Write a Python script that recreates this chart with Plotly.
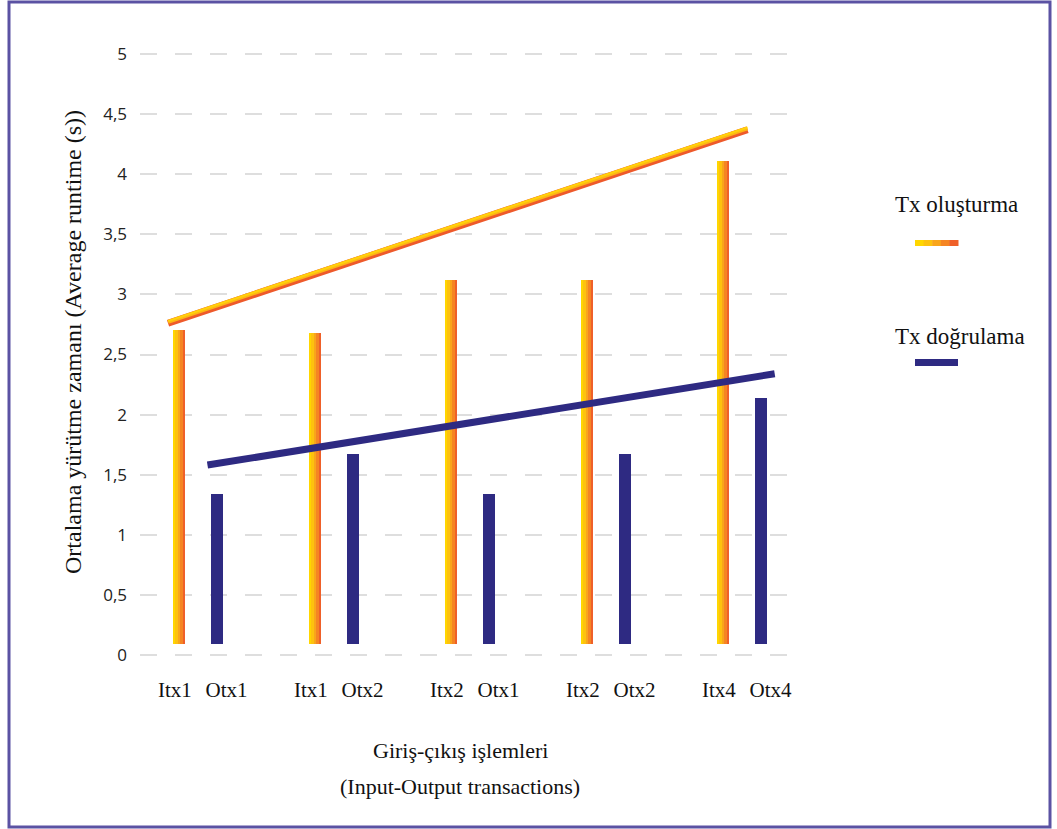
import plotly.graph_objects as go

# ---------------- data ----------------
in_labels = ["Itx1", "Itx1", "Itx2", "Itx2", "Itx4"]
out_labels = ["Otx1", "Otx2", "Otx1", "Otx2", "Otx4"]
tx_create = [2.70, 2.68, 3.12, 3.12, 4.11]   # Tx oluşturma
tx_verify = [1.34, 1.67, 1.34, 1.67, 2.14]   # Tx doğrulama
bar_base = 0.09

trend_x_create = [-0.22, 4.04]
trend_create = [2.76, 4.37]
trend_x_verify = [0.07, 4.24]
trend_verify = [1.58, 2.34]

y_ticks = [0, 0.5, 1, 1.5, 2, 2.5, 3, 3.5, 4, 4.5, 5]
y_ticktext = ["0", "0,5", "1", "1,5", "2", "2,5", "3", "3,5", "4", "4,5", "5"]

# ---------------- layout constants ----------------
FW, FH = 1057, 829
L, R, T, B = 140, 257, 48, 168
PW, PH = FW - L - R, FH - T - B

def px_x(px):
    return (px - L) / PW

def px_y(py):
    return (FH - B - py) / PH

NAVY = "#2E2A82"
GRAD = ["#FFD600", "#FDC20E", "#F9A51B", "#F58523", "#EF6029"]
SERIF = "Liberation Serif"

group_pos = list(range(len(in_labels)))
off = 0.14
bar_w = 0.09
in_pos = [g - off for g in group_pos]
out_pos = [g + off for g in group_pos]

fig = go.Figure()

# gradient orange bars as side-by-side strips
n = len(GRAD)
sw = bar_w / n
for k, col in enumerate(GRAD):
    dx = -bar_w / 2 + sw * (k + 0.5)
    fig.add_trace(go.Bar(
        x=[p + dx for p in in_pos],
        y=[v - bar_base for v in tx_create],
        base=bar_base,
        width=sw * 1.05,
        marker=dict(color=col, line=dict(width=0)),
        showlegend=False,
        name="Tx oluşturma",
    ))

fig.add_trace(go.Bar(
    x=out_pos,
    y=[v - bar_base for v in tx_verify],
    base=bar_base,
    width=bar_w,
    marker=dict(color=NAVY, line=dict(width=0)),
    showlegend=False,
    name="Tx doğrulama",
))

# trend lines
fig.add_trace(go.Scatter(
    x=trend_x_create, y=trend_create, mode="lines",
    line=dict(color="#EE5A2B", width=7), showlegend=False, hoverinfo="skip"))
fig.add_trace(go.Scatter(
    x=trend_x_create, y=[v + 0.012 for v in trend_create], mode="lines",
    line=dict(color="#FDB515", width=4), showlegend=False, hoverinfo="skip"))
fig.add_trace(go.Scatter(
    x=trend_x_create, y=[v + 0.018 for v in trend_create], mode="lines",
    line=dict(color="#FFD20A", width=2), showlegend=False))
fig.add_trace(go.Scatter(
    x=trend_x_verify, y=trend_verify, mode="lines",
    line=dict(color=NAVY, width=7), showlegend=False))

# ---------------- decorations ----------------
shapes = []
# outer border
shapes.append(dict(type="rect", xref="paper", yref="paper",
                   x0=px_x(9), x1=px_x(1050), y0=px_y(827), y1=px_y(2),
                   line=dict(color="#5B52A3", width=3), layer="above"))
# legend swatches
sx0, sx1 = 915, 958
segw = (sx1 - sx0) / n
for k, col in enumerate(GRAD):
    shapes.append(dict(type="rect", xref="paper", yref="paper",
                       x0=px_x(sx0 + k * segw), x1=px_x(sx0 + (k + 1) * segw + 0.5),
                       y0=px_y(246), y1=px_y(240),
                       fillcolor=col, line=dict(width=0)))
shapes.append(dict(type="rect", xref="paper", yref="paper",
                   x0=px_x(sx0), x1=px_x(sx1), y0=px_y(366), y1=px_y(359),
                   fillcolor=NAVY, line=dict(width=0)))

annotations = [
    dict(text="Tx oluşturma", x=px_x(893), y=px_y(204), xref="paper", yref="paper",
         xanchor="left", yanchor="middle", showarrow=False,
         font=dict(family=SERIF, size=23, color="#111")),
    dict(text="Tx doğrulama", x=px_x(893), y=px_y(336), xref="paper", yref="paper",
         xanchor="left", yanchor="middle", showarrow=False,
         font=dict(family=SERIF, size=23, color="#111")),
    dict(text="Giriş-çıkış işlemleri", x=px_x(460), y=px_y(750), xref="paper", yref="paper",
         xanchor="center", yanchor="middle", showarrow=False,
         font=dict(family=SERIF, size=22, color="#111")),
    dict(text="(Input-Output transactions)", x=px_x(460), y=px_y(786), xref="paper", yref="paper",
         xanchor="center", yanchor="middle", showarrow=False,
         font=dict(family=SERIF, size=22, color="#111")),
    dict(text="Ortalama yürütme zamanı (Average runtime (s))", x=px_x(73), y=px_y(342),
         xref="paper", yref="paper", textangle=-90,
         xanchor="center", yanchor="middle", showarrow=False,
         font=dict(family=SERIF, size=24, color="#111")),
]

tick_vals = []
tick_text = []
for a, b, pa, pb in zip(in_labels, out_labels, in_pos, out_pos):
    tick_vals += [pa - 0.03, pb + 0.07]
    tick_text += [a, b]

fig.update_layout(
    width=FW, height=FH,
    margin=dict(l=L, r=R, t=T, b=B, pad=0),
    paper_bgcolor="white", plot_bgcolor="white",
    barmode="overlay", bargap=0,
    showlegend=False,
    shapes=shapes, annotations=annotations,
    xaxis=dict(range=[-0.426, 4.426], tickmode="array", tickvals=tick_vals, ticktext=tick_text,
               showgrid=False, zeroline=False, showline=False, ticks="",
               ticklabelstandoff=14,
               tickfont=dict(family=SERIF, size=21, color="#111")),
    yaxis=dict(range=[-0.05, 5.05], tickmode="array", tickvals=y_ticks, ticktext=y_ticktext,
               showgrid=True, gridcolor="#DEDEDE", gridwidth=1.5, griddash="17px,18px",
               zeroline=False, showline=False, ticks="", ticklabelstandoff=12,
               tickfont=dict(family="Open Sans", size=17, color="#222")),
)

fig.write_html("out.html")
